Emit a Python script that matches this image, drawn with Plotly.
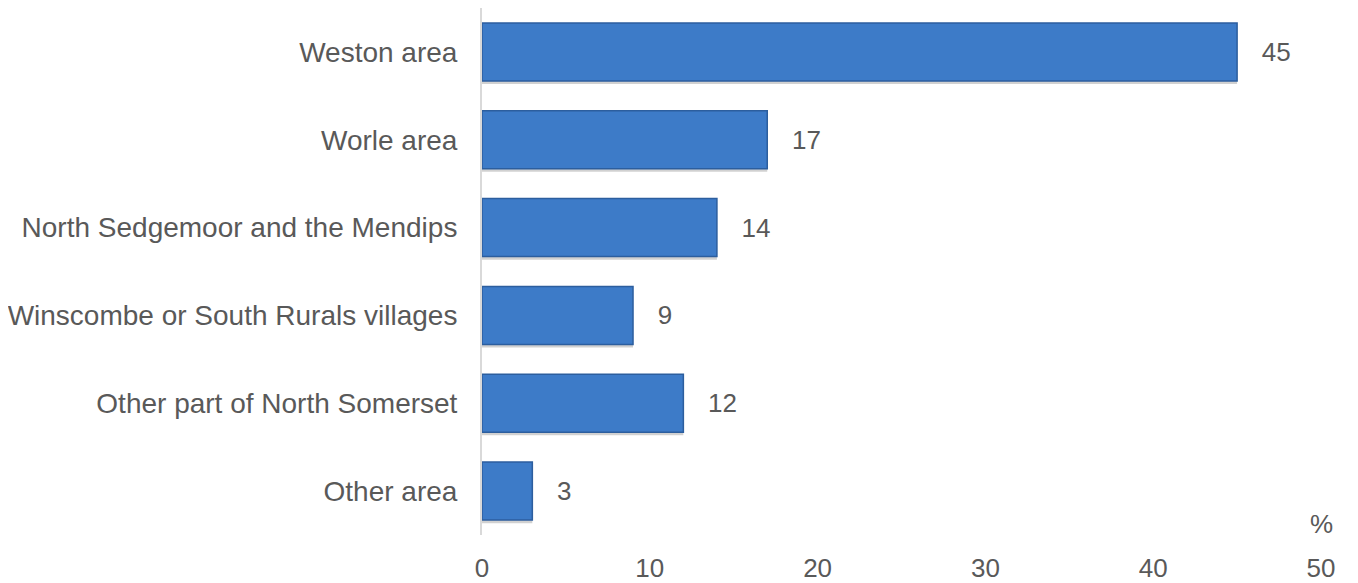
import plotly.graph_objects as go

categories = ["Weston area", "Worle area", "North Sedgemoor and the Mendips",
              "Winscombe or South Rurals villages", "Other part of North Somerset", "Other area"]
values = [45, 17, 14, 9, 12, 3]
tick_vals = [0, 10, 20, 30, 40, 50]

font = "Liberation Sans, Arial, sans-serif"
grey = "#595959"
bw = 0.66

fig = go.Figure()
# soft drop shadow
fig.add_trace(go.Bar(
    y=categories, x=values, orientation="h", width=bw, offset=-bw / 2 - 0.035,
    marker=dict(color="rgba(0,0,0,0.18)", line=dict(width=0)),
    hoverinfo="skip", cliponaxis=False,
))
fig.add_trace(go.Bar(
    y=categories, x=values, orientation="h", width=bw, offset=-bw / 2,
    marker=dict(color="#3D7BC8", line=dict(color="#2C5E9E", width=1.5)),
    text=values, texttemplate="   %{text}", textposition="outside",
    textfont=dict(family=font, size=26, color=grey),
    cliponaxis=False,
))
fig.update_layout(
    width=1358, height=583, barmode="overlay",
    margin=dict(l=474, r=45, t=0, b=56),
    paper_bgcolor="white", plot_bgcolor="white",
    showlegend=False,
    font=dict(family=font, size=26, color=grey),
    xaxis=dict(range=[0, 50], tickvals=tick_vals, showgrid=False, zeroline=False,
               showline=False, ticks="", ticklabelstandoff=15,
               tickfont=dict(family=font, size=26, color=grey)),
    yaxis=dict(categoryorder="array", categoryarray=categories[::-1],
               showgrid=False, showline=True, linecolor="#D9D9D9", linewidth=2,
               ticks="", ticklabelstandoff=17,
               tickfont=dict(family=font, size=28, color=grey)),
    annotations=[dict(x=50, xref="x", y=0, yref="paper", yanchor="bottom",
                      yshift=-6, text="%", showarrow=False,
                      font=dict(family=font, size=26, color=grey))],
)
fig.write_html("out.html")
